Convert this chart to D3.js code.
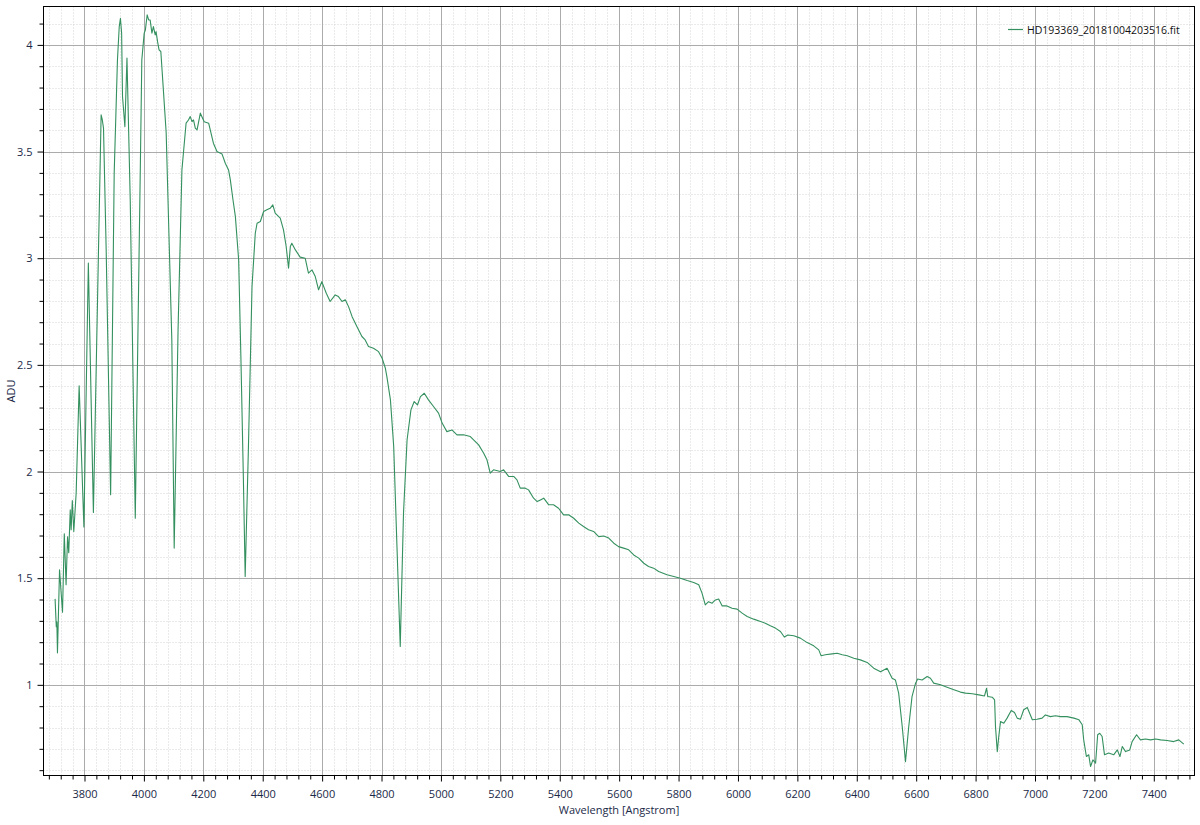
<!DOCTYPE html>
<html>
<head>
<meta charset="utf-8">
<script src="https://cdn.jsdelivr.net/npm/d3@7"></script>
<style>
  html, body { margin: 0; padding: 0; background: #fff; }
  svg text { font-family: "Open Sans", "Noto Sans", sans-serif; }
</style>
</head>
<body>
<svg id="chart" width="1200" height="825"></svg>
<script>
const seriesName = "HD193369_20181004203516.fit";
const xTitle = "Wavelength [Angstrom]";
const yTitle = "ADU";
const xMajorTicks = [3800,4000,4200,4400,4600,4800,5000,5200,5400,5600,5800,6000,6200,6400,6600,6800,7000,7200,7400];
const yMajorTicks = [1,1.5,2,2.5,3,3.5,4];

const wavelength = [3701,3705,3707,3709,3716,3726,3732,3738,3743,3747,
3752,3755,3759,3764,3772,3782,3798,3813,3830,3856,
3860,3864,3873,3888,3900,3911,3917,3921,3925,3928,
3936,3943,3954,3971,3988,3993,4001,4005,4011,4016,
4021,4027,4032,4038,4041,4046,4051,4057,4064,4075,
4094,4102,4115,4128,4136,4142,4150,4156,4162,4167,
4173,4179,4190,4203,4218,4234,4246,4263,4274,4285,
4291,4300,4308,4319,4327,4335,4341,4352,4364,4375,
4381,4392,4403,4414,4425,4434,4442,4459,4470,4479,
4487,4493,4498,4510,4526,4543,4554,4566,4577,4588,
4599,4614,4627,4644,4655,4667,4678,4689,4701,4717,
4734,4745,4756,4773,4790,4802,4813,4818,4830,4841,
4852,4863,4874,4886,4899,4910,4921,4931,4944,4958,
4975,4992,5004,5020,5037,5054,5076,5099,5110,5127,
5144,5155,5166,5177,5200,5211,5228,5245,5256,5267,
5284,5295,5312,5324,5335,5346,5363,5379,5396,5413,
5430,5447,5464,5480,5497,5514,5531,5548,5565,5582,
5598,5615,5632,5649,5666,5683,5699,5716,5733,5761,
5784,5806,5829,5851,5868,5879,5890,5901,5913,5924,
5935,5947,5963,5980,5997,6014,6031,6053,6076,6092,
6109,6126,6143,6156,6168,6188,6210,6233,6255,6272,
6280,6294,6317,6334,6351,6368,6390,6412,6435,6457,
6480,6502,6519,6530,6541,6553,6564,6575,6586,6598,
6605,6620,6637,6648,6659,6682,6704,6727,6749,6766,
6789,6811,6830,6837,6841,6856,6864,6867,6873,6878,
6884,6895,6906,6920,6931,6940,6951,6962,6974,6982,
6991,7007,7024,7035,7052,7069,7086,7108,7131,7148,
7159,7164,7173,7181,7187,7195,7204,7211,7218,7226,
7234,7248,7265,7277,7286,7294,7305,7319,7327,7342,
7355,7372,7389,7406,7423,7445,7467,7484,7501];

const adu = [1.403,1.272,1.295,1.15,1.539,1.34,1.708,1.469,1.694,1.619,
1.82,1.727,1.864,1.719,1.9,2.402,1.74,2.977,1.808,3.672,
3.648,3.61,3.039,1.891,3.4,3.93,4.086,4.125,4.055,3.758,
3.617,3.938,3.273,1.781,3.43,3.93,4.055,4.07,4.141,4.117,
4.117,4.055,4.086,4.047,4.062,4.015,3.977,3.969,3.822,3.588,
2.617,1.641,2.664,3.414,3.539,3.633,3.648,3.664,3.64,3.648,
3.61,3.602,3.68,3.64,3.633,3.539,3.5,3.489,3.445,3.414,
3.367,3.273,3.195,2.992,2.508,1.961,1.508,2.117,2.867,3.117,
3.164,3.172,3.219,3.227,3.234,3.25,3.211,3.188,3.133,3.055,
2.953,3.055,3.07,3.039,3.005,3.0,2.93,2.945,2.914,2.852,
2.89,2.836,2.797,2.828,2.82,2.797,2.805,2.773,2.726,2.68,
2.633,2.617,2.586,2.578,2.562,2.531,2.484,2.445,2.336,2.117,
1.648,1.18,1.805,2.148,2.289,2.328,2.312,2.351,2.367,2.336,
2.305,2.274,2.227,2.187,2.195,2.172,2.172,2.164,2.148,2.125,
2.086,2.055,1.992,2.008,2.0,2.008,1.977,1.977,1.961,1.922,
1.922,1.914,1.875,1.859,1.867,1.875,1.844,1.844,1.828,1.797,
1.797,1.781,1.758,1.742,1.727,1.719,1.695,1.698,1.688,1.664,
1.648,1.641,1.633,1.609,1.594,1.57,1.555,1.547,1.531,1.516,
1.508,1.5,1.489,1.48,1.469,1.43,1.375,1.39,1.383,1.398,
1.402,1.37,1.37,1.359,1.355,1.336,1.32,1.308,1.297,1.289,
1.277,1.266,1.25,1.224,1.234,1.23,1.219,1.198,1.183,1.164,
1.136,1.141,1.145,1.148,1.141,1.136,1.125,1.117,1.105,1.078,
1.061,1.078,1.031,1.023,0.961,0.805,0.64,0.805,0.945,1.008,
1.027,1.023,1.039,1.031,1.008,1.0,0.989,0.977,0.966,0.961,
0.958,0.953,0.948,0.984,0.945,0.942,0.93,0.805,0.687,0.758,
0.828,0.82,0.844,0.88,0.87,0.844,0.839,0.883,0.894,0.867,
0.836,0.839,0.844,0.859,0.851,0.855,0.851,0.851,0.844,0.836,
0.813,0.742,0.664,0.672,0.617,0.648,0.633,0.766,0.773,0.758,
0.672,0.68,0.672,0.695,0.664,0.711,0.687,0.695,0.734,0.766,
0.742,0.746,0.742,0.746,0.742,0.739,0.734,0.742,0.722];

const xDomain = [3662, 7537];
const yDomain = [0.575, 4.18];

const svg = d3.select("#chart");
const L = 43.5, R = 1194.5, T = 6.5, B = 775.5;
const x = d3.scaleLinear().domain(xDomain).range([L, R]);
const y = d3.scaleLinear().domain(yDomain).range([B, T]);

const xMinor = d3.range(3680, 7537, 40);
const yMinor = d3.range(6, 42).map(d => d / 10);
const xMinorOnly = xMinor.filter(d => d % 200 !== 0);
const yMinorOnly = yMinor.filter(d => Math.abs(d * 2 - Math.round(d * 2)) > 1e-6);

const grid = svg.append("g");
grid.selectAll(".xm").data(xMinorOnly).join("line")
  .attr("x1", d => Math.round(x(d)) + 0.5).attr("x2", d => Math.round(x(d)) + 0.5)
  .attr("y1", T).attr("y2", B)
  .attr("stroke", "#d4d4d4").attr("stroke-dasharray", "1,2");
grid.selectAll(".ym").data(yMinorOnly).join("line")
  .attr("y1", d => Math.round(y(d)) + 0.5).attr("y2", d => Math.round(y(d)) + 0.5)
  .attr("x1", L).attr("x2", R)
  .attr("stroke", "#d4d4d4").attr("stroke-dasharray", "1,2");
grid.selectAll(".xM").data(xMajorTicks).join("line")
  .attr("x1", d => Math.round(x(d)) + 0.5).attr("x2", d => Math.round(x(d)) + 0.5)
  .attr("y1", T).attr("y2", B)
  .attr("stroke", "#ababab");
grid.selectAll(".yM").data(yMajorTicks).join("line")
  .attr("y1", d => Math.round(y(d)) + 0.5).attr("y2", d => Math.round(y(d)) + 0.5)
  .attr("x1", L).attr("x2", R)
  .attr("stroke", "#ababab");

const lineColor = "#34905f";
const pts = wavelength.map((w, i) => [w, adu[i]]);
svg.append("path").datum(pts)
  .attr("fill", "none").attr("stroke", lineColor).attr("stroke-width", 1.1)
  .attr("stroke-linejoin", "round")
  .attr("d", d3.line().x(d => x(d[0])).y(d => y(d[1])));

svg.append("rect").attr("x", L).attr("y", T).attr("width", R - L).attr("height", B - T)
  .attr("fill", "none").attr("stroke", "#000").attr("stroke-width", 1);

const textColor = "#1b2a48";
const xAxis = d3.axisBottom(x).tickValues(xMajorTicks).tickSize(6).tickPadding(9).tickFormat(d3.format("d"));
const gx = svg.append("g").attr("transform", `translate(0,${B})`).call(xAxis);
gx.select(".domain").remove();
gx.selectAll("text").attr("fill", textColor).style("font-size", "11px");
const gxm = svg.append("g").attr("transform", `translate(0,${B})`)
  .call(d3.axisBottom(x).tickValues(xMinorOnly).tickSize(4).tickFormat(""));
gxm.select(".domain").remove();

const yAxis = d3.axisLeft(y).tickValues(yMajorTicks).tickSize(6).tickPadding(5).tickFormat(d3.format("~g"));
const gy = svg.append("g").attr("transform", `translate(${L},0)`).call(yAxis);
gy.select(".domain").remove();
gy.selectAll("text").attr("fill", textColor).style("font-size", "11px");
const gym = svg.append("g").attr("transform", `translate(${L},0)`)
  .call(d3.axisLeft(y).tickValues(yMinorOnly).tickSize(4).tickFormat(""));
gym.select(".domain").remove();

svg.append("text").attr("x", (L + R) / 2).attr("y", 814).attr("text-anchor", "middle")
  .attr("fill", textColor).style("font-size", "11px").text(xTitle);
svg.append("text").attr("transform", `translate(15,${(T + B) / 2}) rotate(-90)`).attr("text-anchor", "middle")
  .attr("fill", textColor).style("font-size", "11px").text(yTitle);

const lg = svg.append("g");
lg.append("line").attr("x1", 1008).attr("x2", 1023).attr("y1", 29.5).attr("y2", 29.5)
  .attr("stroke", lineColor).attr("stroke-width", 1.2);
lg.append("text").attr("x", 1027).attr("y", 33.5).attr("fill", "#111").style("font-size", "10.5px").text(seriesName);
</script>
</body>
</html>
